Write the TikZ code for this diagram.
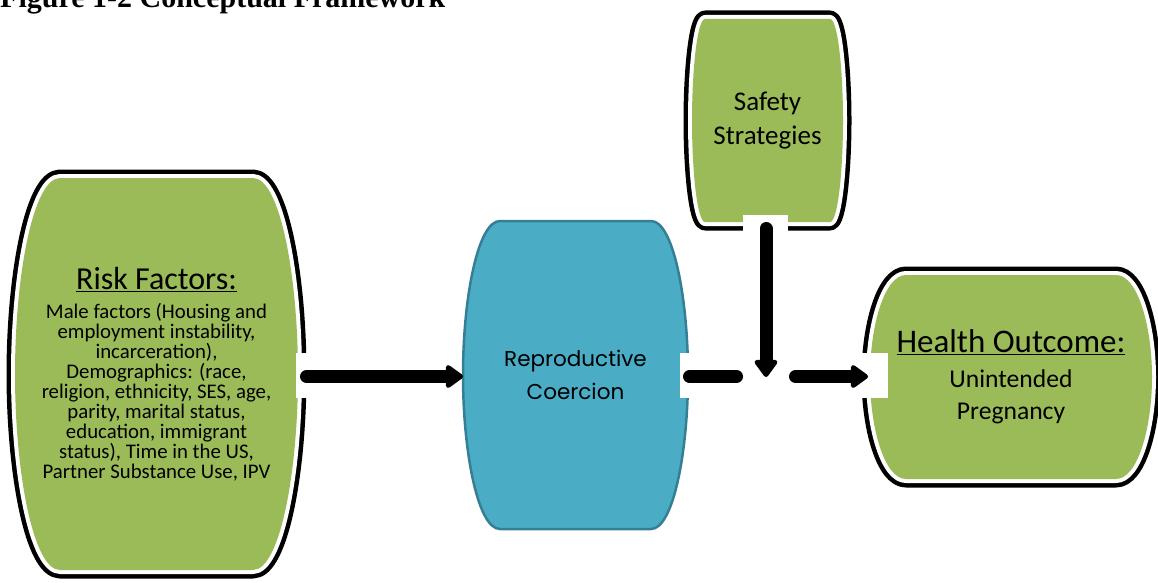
\documentclass[tikz,border=0pt]{standalone}
\usepackage{fontspec}
\setmainfont{Carlito}
\newfontfamily\titlefont{Liberation Serif}
\newfontfamily\geofont{Poppins}
\usetikzlibrary{calc,arrows.meta,backgrounds}

\definecolor{leaf}{HTML}{9BBB59}
\definecolor{sea}{HTML}{4BACC6}
\definecolor{seaedge}{HTML}{357F95}

% barrel outline around a node: flat top and bottom, bulging sides
\newcommand\barrelpath[2]{%
  ($(#1.north west)+(#2,0)$) -- ($(#1.north east)+(-#2,0)$)
  .. controls ($(#1.north east)+(-0.4*#2,0)$) and ($(#1.east)!0.5!(#1.north east)$) .. (#1.east)
  .. controls ($(#1.east)!0.5!(#1.south east)$) and ($(#1.south east)+(-0.4*#2,0)$) .. ($(#1.south east)+(-#2,0)$)
  -- ($(#1.south west)+(#2,0)$)
  .. controls ($(#1.south west)+(0.4*#2,0)$) and ($(#1.west)!0.5!(#1.south west)$) .. (#1.west)
  .. controls ($(#1.west)!0.5!(#1.north west)$) and ($(#1.north west)+(0.4*#2,0)$) .. cycle}

% green barrel with white rim and black outer edge
\newcommand\greenbarrel[2]{%
  \path[draw=black, line width=17pt, line join=round, xshift=-0.8pt, yshift=-2pt] \barrelpath{#1}{#2};
  \path[draw=white, line width=8pt, line join=round] \barrelpath{#1}{#2};
  \path[fill=leaf] \barrelpath{#1}{#2};
}

\tikzset{
  box/.style={inner sep=0pt, outer sep=0pt, align=center, text=black},
  conn/.style={line width=13pt, line cap=round, draw=black,
    -{Triangle[length=19pt, width=26pt, round]}},
  seg/.style={line width=13pt, line cap=round, draw=black},
  gap/.style={fill=white, draw=none}
}

\begin{document}
\begin{tikzpicture}[x=1pt, y=-1pt]
\useasboundingbox (0,0) rectangle (1158,583);

% heading, cut off at the top edge
\node[inner sep=0pt, anchor=base west,
  font=\titlefont\bfseries\fontsize{30}{36}\selectfont] (title) at (0,8)
  {Figure 1-2 Conceptual Framework};

% the four boxes
\node[box, minimum width=283pt, minimum height=392pt,
  font=\fontsize{20.8}{20}\selectfont] (risk) at (156.5,374)
  {{\fontsize{32}{36}\selectfont\underline{Risk Factors:}}\\[9pt]
   Male factors (Housing and\\
   employment instability,\\
   incarceration),\\
   Demographics: (race,\\
   religion, ethnicity, SES, age,\\
   parity, marital status,\\
   education, immigrant\\
   status), Time in the US,\\
   Partner Substance Use, IPV};

\node[box, minimum width=225pt, minimum height=308pt,
  font=\geofont\fontsize{21.5}{33}\selectfont] (coercion) at (575.5,375)
  {Reproductive\\Coercion};

\node[box, minimum width=151pt, minimum height=203pt,
  font=\fontsize{27}{34}\selectfont] (safety) at (767.5,120.5)
  {Safety\\Strategies};

\node[box, minimum width=282pt, minimum height=204pt,
  font=\fontsize{25.6}{32}\selectfont] (outcome) at (1011,377)
  {{\fontsize{33}{36}\selectfont\underline{Health Outcome:}}\\[3pt]
   Unintended\\Pregnancy};

\begin{scope}[on background layer]
  \greenbarrel{risk}{45}
  \greenbarrel{safety}{13}
  \greenbarrel{outcome}{36}
  \path[fill=sea, draw=seaedge, line width=2.5pt] \barrelpath{coercion}{37};
\end{scope}

% white cut-outs where the connectors meet the boxes
\fill[gap] (296,353) rectangle (340,398);
\fill[gap] (680,353) rectangle (888,398);
\fill[gap] (743,215) rectangle (788,240);

% junction points on the lower connector
\coordinate (jl) at (736.5,376.5);
\coordinate (jc) at (766,377);
\coordinate (jr) at (795.5,376.5);

% connectors
\draw[conn] ($(risk.east)+(8.5,2.5)$) -- ($(coercion.west)+(0,1.5)$);
\draw[seg] ($(coercion.east)+(1.5,1.5)$) -- (jl);
\draw[conn] (jr) -- ($(outcome.west)+(-2,-0.5)$);
\draw[conn] ($(safety.south -| jc)+(0,6.5)$) -- (jc);
\end{tikzpicture}
\end{document}
